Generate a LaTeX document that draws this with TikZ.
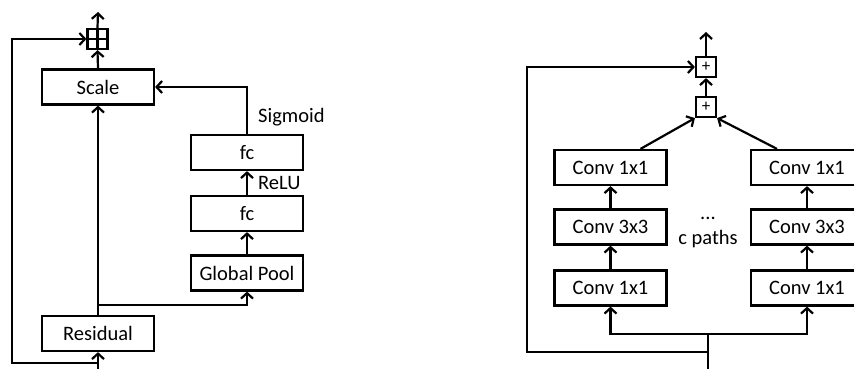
\documentclass[tikz,border=0pt]{standalone}
\usepackage{fontspec}
\setmainfont{Carlito}
\usetikzlibrary{arrows.meta,calc}
\begin{document}
\begin{tikzpicture}[x=1pt,y=-1pt,
  every node/.style={font=\fontsize{20.5}{24}\selectfont},
  blk/.style={draw,line width=2.2pt,minimum width=112pt,minimum height=35pt,inner sep=0pt},
  plusbox/.style={draw,line width=2.2pt,minimum width=20pt,minimum height=20pt,inner sep=0pt},
  conn/.style={line width=2.2pt},
  arr/.style={conn,-{Straight Barb[length=5.5pt,width=12pt,line width=2.2pt]}},
  lbl/.style={inner sep=0pt}]
\useasboundingbox (0,0) rectangle (854,369);
% ---------- left: SE block ----------
\node[plusbox] (pL) at (97.5,39) {};
\draw[line width=2.6pt] ($(pL.west)+(3,0)$) -- ($(pL.east)+(-3,0)$);
\draw[line width=2.6pt] (pL.north) -- (pL.south);
\node[blk] (scale) at (98,87) {Scale};
\node[blk] (fc2) at (247,152.5) {fc};
\node[blk] (fc1) at (247,213.5) {fc};
\node[blk] (gp) at (247,273) {Global Pool};
\node[blk] (res) at (98,333.5) {Residual};
\coordinate (inL) at (98,369);
\coordinate (skL) at (98,363);
\coordinate (brL) at (98,305);
\coordinate (outL) at (98,12);
\draw[arr] (inL) -- (res.south);
\draw[arr] (res.north) -- (scale.south);
\draw[arr] (brL) -| (gp.south);
\draw[arr] (gp.north) -- (fc1.south);
\draw[arr] (fc1.north) -- (fc2.south);
\node[lbl,anchor=west] (relu) at (258,183) {ReLU};
\draw[arr] (fc2.north) |- (scale.east);
\node[lbl,anchor=west] (sig) at (258,117) {Sigmoid};
\draw[arr] (scale.north) -- (pL.south);
\draw[arr] (skL) -| (12,39) -- (pL.west);
\draw[arr] (pL.north) -- (outL);
% ---------- right: ResNeXt block ----------
\node[plusbox,font=\fontsize{17}{18}\selectfont] (pA) at (706,67) {+};
\node[plusbox,font=\fontsize{17}{18}\selectfont] (pB) at (706,107) {+};
\node[blk] (a1) at (610.5,167.5) {Conv 1x1};
\node[blk] (a3) at (610.5,227) {Conv 3x3};
\node[blk] (a0) at (610.5,288) {Conv 1x1};
\node[blk] (b1) at (807,167.5) {Conv 1x1};
\node[blk] (b3) at (807,227) {Conv 3x3};
\node[blk] (b0) at (807,288) {Conv 1x1};
\node[lbl] (dots) at (708,218) {...};
\node[lbl] (cp) at (708,239) {c paths};
\coordinate (inR) at (708,369);
\coordinate (brR) at (708,334);
\coordinate (skR) at (708,352);
\coordinate (outR) at (706,32);
\draw[conn] (inR) -- (brR);
\draw[arr] (brR) -| (a0.south);
\draw[arr] (brR) -| (b0.south);
\draw[arr] (a0.north) -- (a3.south);
\draw[arr] (a3.north) -- (a1.south);
\draw[arr] (b0.north) -- (b3.south);
\draw[arr] (b3.north) -- (b1.south);
\draw[arr] ($(a1.north)+(30,0)$) -- (pB.south west);
\draw[arr] ($(b1.north)+(-30,0)$) -- (pB.south east);
\draw[arr] (pB.north) -- (pA.south);
\draw[arr] (skR) -| (527,67) -- (pA.west);
\draw[arr] (pA.north) -- (outR);
\end{tikzpicture}
\end{document}
